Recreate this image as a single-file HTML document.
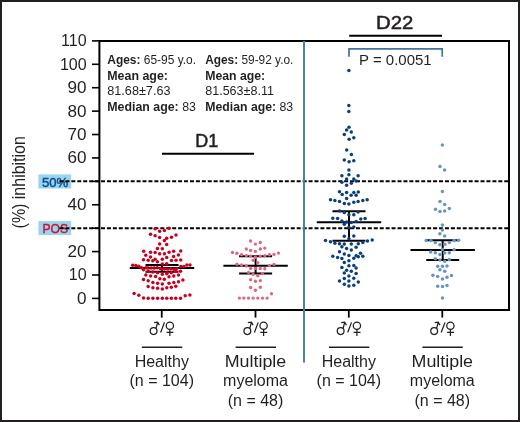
<!DOCTYPE html>
<html><head><meta charset="utf-8"><style>
html,body{margin:0;padding:0;background:#fff;}
body{width:520px;height:422px;overflow:hidden;}
svg{display:block;font-family:"Liberation Sans", sans-serif;will-change:transform;}
</style></head><body>
<svg width="520" height="422" viewBox="0 0 520 422">
<rect width="520" height="422" fill="#fff"/>
<rect x="1" y="1" width="518" height="420" fill="none" stroke="#231f20" stroke-width="2"/>
<rect x="38.4" y="174.4" width="32.8" height="14.1" fill="#99d5f2"/>
<rect x="38.4" y="221.1" width="32.8" height="14.0" fill="#99d5f2"/>
<text x="41.9" y="186.6" font-size="13" fill="#0e4c8a" stroke="#0e4c8a" stroke-width="0.45" textLength="26.4" lengthAdjust="spacingAndGlyphs">50%</text>
<text x="42.4" y="233.3" font-size="13.5" fill="#d0102a" stroke="#d0102a" stroke-width="0.45" textLength="25.6" lengthAdjust="spacingAndGlyphs">POS</text>
<line x1="59.5" y1="181.35" x2="508" y2="181.35" stroke="#000" stroke-width="2" stroke-dasharray="4 1.93"/>
<line x1="59.5" y1="228.17" x2="508" y2="228.17" stroke="#000" stroke-width="2" stroke-dasharray="4 1.93"/>
<path d="M99.4 41 H509 V310.1 H99.4 Z" fill="none" stroke="#000" stroke-width="2"/>
<line x1="92" y1="298.40" x2="99.4" y2="298.40" stroke="#000" stroke-width="1.6"/>
<text transform="translate(86.6,303.90) scale(1.07,1)" font-size="16" text-anchor="end" fill="#231f20">0</text>
<line x1="92" y1="274.99" x2="99.4" y2="274.99" stroke="#000" stroke-width="1.6"/>
<text transform="translate(86.6,280.49) scale(1.0,1)" font-size="16" text-anchor="end" fill="#231f20">10</text>
<line x1="92" y1="251.58" x2="99.4" y2="251.58" stroke="#000" stroke-width="1.6"/>
<text transform="translate(86.6,257.08) scale(1.07,1)" font-size="16" text-anchor="end" fill="#231f20">20</text>
<line x1="92" y1="228.17" x2="99.4" y2="228.17" stroke="#000" stroke-width="1.6"/>
<line x1="92" y1="204.76" x2="99.4" y2="204.76" stroke="#000" stroke-width="1.6"/>
<text transform="translate(86.6,210.26) scale(1.07,1)" font-size="16" text-anchor="end" fill="#231f20">40</text>
<line x1="92" y1="181.35" x2="99.4" y2="181.35" stroke="#000" stroke-width="1.6"/>
<line x1="92" y1="157.94" x2="99.4" y2="157.94" stroke="#000" stroke-width="1.6"/>
<text transform="translate(86.6,163.44) scale(1.07,1)" font-size="16" text-anchor="end" fill="#231f20">60</text>
<line x1="92" y1="134.53" x2="99.4" y2="134.53" stroke="#000" stroke-width="1.6"/>
<text transform="translate(86.6,140.03) scale(1.07,1)" font-size="16" text-anchor="end" fill="#231f20">70</text>
<line x1="92" y1="111.12" x2="99.4" y2="111.12" stroke="#000" stroke-width="1.6"/>
<text transform="translate(86.6,116.62) scale(1.07,1)" font-size="16" text-anchor="end" fill="#231f20">80</text>
<line x1="92" y1="87.71" x2="99.4" y2="87.71" stroke="#000" stroke-width="1.6"/>
<text transform="translate(86.6,93.21) scale(1.07,1)" font-size="16" text-anchor="end" fill="#231f20">90</text>
<line x1="92" y1="64.30" x2="99.4" y2="64.30" stroke="#000" stroke-width="1.6"/>
<text transform="translate(86.6,69.80) scale(1.0,1)" font-size="16" text-anchor="end" fill="#231f20">100</text>
<line x1="92" y1="40.89" x2="99.4" y2="40.89" stroke="#000" stroke-width="1.6"/>
<text transform="translate(86.6,46.39) scale(1.0,1)" font-size="16" text-anchor="end" fill="#231f20">110</text>
<text transform="translate(25.2,182.3) rotate(-90)" font-size="19" text-anchor="middle" textLength="92.3" lengthAdjust="spacingAndGlyphs" fill="#231f20">(%) inhibition</text>
<line x1="304" y1="41" x2="304" y2="362.6" stroke="#4f7ea8" stroke-width="2"/>
<line x1="161.75" y1="310" x2="161.75" y2="317.6" stroke="#000" stroke-width="1.8"/>
<line x1="255.5" y1="310" x2="255.5" y2="317.6" stroke="#000" stroke-width="1.8"/>
<line x1="348.8" y1="310" x2="348.8" y2="317.6" stroke="#000" stroke-width="1.8"/>
<line x1="442.3" y1="310" x2="442.3" y2="317.6" stroke="#000" stroke-width="1.8"/>
<g transform="translate(-0.15,0)" fill="none" stroke="#231f20" stroke-width="1.25"><circle cx="153.75" cy="331.1" r="3.4"/><path d="M156.2 328.3 L157.8 322.3 M154.3 322.6 L157.8 322.2 L159.5 325.1"/><path d="M164.6 322.4 L160.8 332.5"/><circle cx="170" cy="325.8" r="3.65"/><path d="M170 329.7 V335.9 M166.7 332.3 H173.6"/></g>
<g transform="translate(93.60,0)" fill="none" stroke="#231f20" stroke-width="1.25"><circle cx="153.75" cy="331.1" r="3.4"/><path d="M156.2 328.3 L157.8 322.3 M154.3 322.6 L157.8 322.2 L159.5 325.1"/><path d="M164.6 322.4 L160.8 332.5"/><circle cx="170" cy="325.8" r="3.65"/><path d="M170 329.7 V335.9 M166.7 332.3 H173.6"/></g>
<g transform="translate(186.90,0)" fill="none" stroke="#231f20" stroke-width="1.25"><circle cx="153.75" cy="331.1" r="3.4"/><path d="M156.2 328.3 L157.8 322.3 M154.3 322.6 L157.8 322.2 L159.5 325.1"/><path d="M164.6 322.4 L160.8 332.5"/><circle cx="170" cy="325.8" r="3.65"/><path d="M170 329.7 V335.9 M166.7 332.3 H173.6"/></g>
<g transform="translate(280.40,0)" fill="none" stroke="#231f20" stroke-width="1.25"><circle cx="153.75" cy="331.1" r="3.4"/><path d="M156.2 328.3 L157.8 322.3 M154.3 322.6 L157.8 322.2 L159.5 325.1"/><path d="M164.6 322.4 L160.8 332.5"/><circle cx="170" cy="325.8" r="3.65"/><path d="M170 329.7 V335.9 M166.7 332.3 H173.6"/></g>
<line x1="141.85" y1="347.3" x2="182.25" y2="347.3" stroke="#231f20" stroke-width="1.6"/>
<line x1="235.60" y1="347.3" x2="276.00" y2="347.3" stroke="#231f20" stroke-width="1.6"/>
<line x1="328.90" y1="347.3" x2="369.30" y2="347.3" stroke="#231f20" stroke-width="1.6"/>
<line x1="422.40" y1="347.3" x2="462.80" y2="347.3" stroke="#231f20" stroke-width="1.6"/>
<text x="161.75" y="367.3" font-size="16" text-anchor="middle" fill="#231f20">Healthy</text>
<text x="161.75" y="386.4" font-size="16" text-anchor="middle" fill="#231f20">(n = 104)</text>
<text x="255.50" y="367.2" font-size="16" text-anchor="middle" textLength="61.5" lengthAdjust="spacingAndGlyphs" fill="#231f20">Multiple</text>
<text x="255.50" y="386.3" font-size="16" text-anchor="middle" fill="#231f20">myeloma</text>
<text x="255.50" y="405.6" font-size="16" text-anchor="middle" fill="#231f20">(n = 48)</text>
<text x="348.80" y="367.3" font-size="16" text-anchor="middle" fill="#231f20">Healthy</text>
<text x="348.80" y="386.4" font-size="16" text-anchor="middle" fill="#231f20">(n = 104)</text>
<text x="442.30" y="367.2" font-size="16" text-anchor="middle" textLength="61.5" lengthAdjust="spacingAndGlyphs" fill="#231f20">Multiple</text>
<text x="442.30" y="386.3" font-size="16" text-anchor="middle" fill="#231f20">myeloma</text>
<text x="442.30" y="405.6" font-size="16" text-anchor="middle" fill="#231f20">(n = 48)</text>
<line x1="162" y1="153.8" x2="254.1" y2="153.8" stroke="#000" stroke-width="2"/>
<text x="195.3" y="146.8" font-size="18.5" stroke="#231f20" stroke-width="0.5" textLength="23" lengthAdjust="spacingAndGlyphs" fill="#231f20">D1</text>
<line x1="349.2" y1="35.85" x2="442" y2="35.85" stroke="#000" stroke-width="2"/>
<text x="376.0" y="28.9" font-size="18.5" stroke="#231f20" stroke-width="0.5" textLength="37.2" lengthAdjust="spacingAndGlyphs" fill="#231f20">D22</text>
<path d="M349 56.8 V48.9 H442.2 V56.7" fill="none" stroke="#41749f" stroke-width="1.7"/>
<text x="359" y="65" font-size="15" fill="#231f20">P = 0.0051</text>
<text x="107.3" y="64.2" font-size="12.4" lengthAdjust="spacingAndGlyphs" textLength="88.8" fill="#231f20"><tspan font-weight="bold">Ages:</tspan> 65-95 y.o.</text><text x="107.3" y="80" font-size="12.4" lengthAdjust="spacingAndGlyphs" textLength="60.6" fill="#231f20" font-weight="bold">Mean age:</text><text x="107.3" y="95" font-size="12.4" lengthAdjust="spacingAndGlyphs" textLength="63.2" fill="#231f20">81.68±7.63</text><text x="107.3" y="110.6" font-size="12.4" lengthAdjust="spacingAndGlyphs" textLength="88.6" fill="#231f20"><tspan font-weight="bold">Median age:</tspan> 83</text>
<text x="205.2" y="64.2" font-size="12.4" lengthAdjust="spacingAndGlyphs" textLength="88.2" fill="#231f20"><tspan font-weight="bold">Ages:</tspan> 59-92 y.o.</text><text x="205.2" y="80" font-size="12.4" lengthAdjust="spacingAndGlyphs" textLength="60.0" fill="#231f20" font-weight="bold">Mean age:</text><text x="205.2" y="95" font-size="12.4" lengthAdjust="spacingAndGlyphs" textLength="68.8" fill="#231f20">81.563±8.11</text><text x="205.2" y="110.6" font-size="12.4" lengthAdjust="spacingAndGlyphs" textLength="88.0" fill="#231f20"><tspan font-weight="bold">Median age:</tspan> 83</text>
<g stroke="#000" stroke-width="2" fill="none"><line x1="129.80" y1="268.1" x2="194.20" y2="268.1"/><line x1="145.50" y1="265.0" x2="178.50" y2="265.0"/><line x1="145.50" y1="271.7" x2="178.50" y2="271.7"/><line x1="162.0" y1="265.0" x2="162.0" y2="271.7"/></g>
<g stroke="#000" stroke-width="2" fill="none"><line x1="223.40" y1="265.7" x2="287.80" y2="265.7"/><line x1="239.10" y1="256.3" x2="272.10" y2="256.3"/><line x1="239.10" y1="273.6" x2="272.10" y2="273.6"/><line x1="255.6" y1="256.3" x2="255.6" y2="273.6"/></g>
<g stroke="#000" stroke-width="2" fill="none"><line x1="316.80" y1="222.2" x2="381.20" y2="222.2"/><line x1="332.50" y1="211.2" x2="365.50" y2="211.2"/><line x1="332.50" y1="240.8" x2="365.50" y2="240.8"/><line x1="349.0" y1="211.2" x2="349.0" y2="240.8"/></g>
<g stroke="#000" stroke-width="2" fill="none"><line x1="410.50" y1="250.0" x2="474.90" y2="250.0"/><line x1="426.20" y1="240.3" x2="459.20" y2="240.3"/><line x1="426.20" y1="259.9" x2="459.20" y2="259.9"/><line x1="442.7" y1="240.3" x2="442.7" y2="259.9"/></g>
<g fill="#c8001e"><circle cx="155.1" cy="228.8" r="1.75"/><circle cx="169.1" cy="228.2" r="1.75"/><circle cx="159.6" cy="231.2" r="1.75"/><circle cx="164.4" cy="230.6" r="1.75"/><circle cx="150.5" cy="234.3" r="1.75"/><circle cx="155.1" cy="235.8" r="1.75"/><circle cx="176.0" cy="234.9" r="1.75"/><circle cx="159.6" cy="237.5" r="1.75"/><circle cx="166.7" cy="238.3" r="1.75"/><circle cx="171.5" cy="237.2" r="1.75"/><circle cx="164.4" cy="240.4" r="1.75"/><circle cx="159.6" cy="243.9" r="1.75"/><circle cx="166.7" cy="244.4" r="1.75"/><circle cx="157.4" cy="248.4" r="1.75"/><circle cx="162.3" cy="248.8" r="1.75"/><circle cx="143.7" cy="251.2" r="1.75"/><circle cx="150.5" cy="252.3" r="1.75"/><circle cx="155.1" cy="252.5" r="1.75"/><circle cx="159.6" cy="253.8" r="1.75"/><circle cx="164.4" cy="253.8" r="1.75"/><circle cx="169.1" cy="252.3" r="1.75"/><circle cx="173.6" cy="251.2" r="1.75"/><circle cx="180.7" cy="250.9" r="1.75"/><circle cx="145.8" cy="255.3" r="1.75"/><circle cx="178.4" cy="255.0" r="1.75"/><circle cx="150.5" cy="257.1" r="1.75"/><circle cx="166.7" cy="257.4" r="1.75"/><circle cx="173.6" cy="256.4" r="1.75"/><circle cx="143.5" cy="259.8" r="1.75"/><circle cx="148.2" cy="260.3" r="1.75"/><circle cx="152.8" cy="260.8" r="1.75"/><circle cx="155.1" cy="259.2" r="1.75"/><circle cx="157.4" cy="261.7" r="1.75"/><circle cx="162.3" cy="259.2" r="1.75"/><circle cx="171.5" cy="260.6" r="1.75"/><circle cx="176.0" cy="260.3" r="1.75"/><circle cx="180.7" cy="260.0" r="1.75"/><circle cx="162.3" cy="264.0" r="1.75"/><circle cx="166.7" cy="263.8" r="1.75"/><circle cx="132.7" cy="265.2" r="1.75"/><circle cx="135.8" cy="265.4" r="1.75"/><circle cx="138.8" cy="266.3" r="1.75"/><circle cx="141.5" cy="267.7" r="1.75"/><circle cx="143.5" cy="269.8" r="1.75"/><circle cx="146.2" cy="267.7" r="1.75"/><circle cx="148.1" cy="268.1" r="1.75"/><circle cx="151.2" cy="268.1" r="1.75"/><circle cx="154.2" cy="268.1" r="1.75"/><circle cx="157.3" cy="267.7" r="1.75"/><circle cx="160.4" cy="268.5" r="1.75"/><circle cx="162.0" cy="269.2" r="1.75"/><circle cx="164.6" cy="268.8" r="1.75"/><circle cx="167.7" cy="268.9" r="1.75"/><circle cx="170.8" cy="268.8" r="1.75"/><circle cx="173.8" cy="269.2" r="1.75"/><circle cx="176.5" cy="268.5" r="1.75"/><circle cx="180.8" cy="266.5" r="1.75"/><circle cx="183.8" cy="266.5" r="1.75"/><circle cx="186.9" cy="265.0" r="1.75"/><circle cx="190.0" cy="265.0" r="1.75"/><circle cx="148.2" cy="271.3" r="1.75"/><circle cx="152.9" cy="272.0" r="1.75"/><circle cx="157.6" cy="272.7" r="1.75"/><circle cx="167.0" cy="272.7" r="1.75"/><circle cx="171.3" cy="272.7" r="1.75"/><circle cx="175.8" cy="271.3" r="1.75"/><circle cx="180.5" cy="271.3" r="1.75"/><circle cx="145.8" cy="275.1" r="1.75"/><circle cx="150.6" cy="276.1" r="1.75"/><circle cx="155.6" cy="276.5" r="1.75"/><circle cx="162.3" cy="274.3" r="1.75"/><circle cx="166.8" cy="273.8" r="1.75"/><circle cx="169.0" cy="276.7" r="1.75"/><circle cx="173.8" cy="276.1" r="1.75"/><circle cx="178.5" cy="275.1" r="1.75"/><circle cx="143.5" cy="279.4" r="1.75"/><circle cx="148.2" cy="280.8" r="1.75"/><circle cx="159.9" cy="278.7" r="1.75"/><circle cx="164.3" cy="279.2" r="1.75"/><circle cx="152.9" cy="282.4" r="1.75"/><circle cx="157.6" cy="283.2" r="1.75"/><circle cx="162.3" cy="284.1" r="1.75"/><circle cx="169.0" cy="283.2" r="1.75"/><circle cx="173.8" cy="282.4" r="1.75"/><circle cx="178.5" cy="281.8" r="1.75"/><circle cx="182.9" cy="280.1" r="1.75"/><circle cx="148.2" cy="286.4" r="1.75"/><circle cx="152.9" cy="287.8" r="1.75"/><circle cx="157.6" cy="288.2" r="1.75"/><circle cx="162.3" cy="289.1" r="1.75"/><circle cx="166.8" cy="287.8" r="1.75"/><circle cx="171.3" cy="287.2" r="1.75"/><circle cx="175.8" cy="286.2" r="1.75"/><circle cx="134.1" cy="293.6" r="1.75"/><circle cx="138.8" cy="295.3" r="1.75"/><circle cx="143.5" cy="298.0" r="1.75"/><circle cx="148.2" cy="298.3" r="1.75"/><circle cx="152.9" cy="298.3" r="1.75"/><circle cx="157.6" cy="298.3" r="1.75"/><circle cx="162.3" cy="298.3" r="1.75"/><circle cx="166.8" cy="298.3" r="1.75"/><circle cx="171.3" cy="298.3" r="1.75"/><circle cx="175.8" cy="298.3" r="1.75"/><circle cx="180.5" cy="298.3" r="1.75"/><circle cx="185.2" cy="295.8" r="1.75"/><circle cx="189.9" cy="294.9" r="1.75"/></g>
<g fill="#db6782"><circle cx="250.6" cy="241.0" r="1.68"/><circle cx="255.4" cy="244.1" r="1.68"/><circle cx="260.3" cy="242.5" r="1.68"/><circle cx="246.3" cy="249.0" r="1.68"/><circle cx="250.6" cy="250.4" r="1.68"/><circle cx="255.4" cy="251.4" r="1.68"/><circle cx="260.3" cy="249.0" r="1.68"/><circle cx="264.8" cy="248.1" r="1.68"/><circle cx="232.5" cy="252.5" r="1.68"/><circle cx="236.9" cy="253.3" r="1.68"/><circle cx="241.5" cy="254.8" r="1.68"/><circle cx="246.3" cy="255.6" r="1.68"/><circle cx="250.6" cy="256.1" r="1.68"/><circle cx="255.4" cy="257.3" r="1.68"/><circle cx="260.3" cy="256.1" r="1.68"/><circle cx="264.8" cy="255.6" r="1.68"/><circle cx="269.4" cy="254.8" r="1.68"/><circle cx="274.0" cy="254.4" r="1.68"/><circle cx="278.5" cy="253.1" r="1.68"/><circle cx="253.1" cy="260.3" r="1.68"/><circle cx="257.8" cy="262.8" r="1.68"/><circle cx="236.9" cy="264.2" r="1.68"/><circle cx="241.5" cy="265.0" r="1.68"/><circle cx="246.3" cy="266.0" r="1.68"/><circle cx="269.4" cy="265.6" r="1.68"/><circle cx="274.0" cy="264.4" r="1.68"/><circle cx="250.6" cy="268.5" r="1.68"/><circle cx="255.4" cy="268.5" r="1.68"/><circle cx="260.3" cy="268.5" r="1.68"/><circle cx="264.8" cy="268.7" r="1.68"/><circle cx="248.5" cy="272.4" r="1.68"/><circle cx="253.1" cy="274.2" r="1.68"/><circle cx="257.8" cy="275.8" r="1.68"/><circle cx="262.5" cy="273.6" r="1.68"/><circle cx="250.6" cy="279.7" r="1.68"/><circle cx="255.4" cy="281.2" r="1.68"/><circle cx="260.3" cy="280.6" r="1.68"/><circle cx="250.6" cy="287.5" r="1.68"/><circle cx="255.4" cy="290.2" r="1.68"/><circle cx="260.3" cy="287.3" r="1.68"/><circle cx="271.5" cy="293.8" r="1.68"/><circle cx="239.4" cy="298.1" r="1.68"/><circle cx="243.8" cy="298.1" r="1.68"/><circle cx="248.5" cy="298.1" r="1.68"/><circle cx="253.1" cy="298.1" r="1.68"/><circle cx="257.8" cy="298.1" r="1.68"/><circle cx="262.5" cy="298.1" r="1.68"/><circle cx="267.1" cy="298.1" r="1.68"/></g>
<g fill="#0a3f7f"><circle cx="348.9" cy="70.4" r="1.75"/><circle cx="348.8" cy="105.4" r="1.75"/><circle cx="348.8" cy="111.6" r="1.75"/><circle cx="349.0" cy="127.2" r="1.75"/><circle cx="346.6" cy="130.1" r="1.75"/><circle cx="351.3" cy="132.0" r="1.75"/><circle cx="344.3" cy="134.5" r="1.75"/><circle cx="349.1" cy="139.3" r="1.75"/><circle cx="353.8" cy="137.8" r="1.75"/><circle cx="346.7" cy="150.0" r="1.75"/><circle cx="351.4" cy="154.4" r="1.75"/><circle cx="344.3" cy="160.1" r="1.75"/><circle cx="349.1" cy="161.7" r="1.75"/><circle cx="353.8" cy="160.7" r="1.75"/><circle cx="348.9" cy="170.0" r="1.75"/><circle cx="341.9" cy="175.8" r="1.75"/><circle cx="348.9" cy="174.7" r="1.75"/><circle cx="358.1" cy="175.8" r="1.75"/><circle cx="346.6" cy="179.1" r="1.75"/><circle cx="353.8" cy="179.1" r="1.75"/><circle cx="356.1" cy="180.9" r="1.75"/><circle cx="341.9" cy="182.2" r="1.75"/><circle cx="351.3" cy="183.2" r="1.75"/><circle cx="346.6" cy="185.2" r="1.75"/><circle cx="339.5" cy="191.7" r="1.75"/><circle cx="346.6" cy="192.6" r="1.75"/><circle cx="353.8" cy="192.6" r="1.75"/><circle cx="358.3" cy="191.9" r="1.75"/><circle cx="342.2" cy="194.6" r="1.75"/><circle cx="351.1" cy="195.3" r="1.75"/><circle cx="356.1" cy="195.3" r="1.75"/><circle cx="346.6" cy="198.5" r="1.75"/><circle cx="330.5" cy="199.7" r="1.75"/><circle cx="334.9" cy="200.4" r="1.75"/><circle cx="339.5" cy="201.5" r="1.75"/><circle cx="344.3" cy="203.6" r="1.75"/><circle cx="348.9" cy="204.1" r="1.75"/><circle cx="353.8" cy="202.2" r="1.75"/><circle cx="358.1" cy="201.4" r="1.75"/><circle cx="362.8" cy="200.4" r="1.75"/><circle cx="367.2" cy="199.7" r="1.75"/><circle cx="339.5" cy="211.1" r="1.75"/><circle cx="344.3" cy="212.5" r="1.75"/><circle cx="358.1" cy="212.1" r="1.75"/><circle cx="348.9" cy="214.8" r="1.75"/><circle cx="353.8" cy="214.8" r="1.75"/><circle cx="332.8" cy="218.2" r="1.75"/><circle cx="337.6" cy="218.6" r="1.75"/><circle cx="360.8" cy="218.9" r="1.75"/><circle cx="365.1" cy="218.6" r="1.75"/><circle cx="341.9" cy="220.9" r="1.75"/><circle cx="346.6" cy="222.0" r="1.75"/><circle cx="351.3" cy="222.5" r="1.75"/><circle cx="356.1" cy="221.6" r="1.75"/><circle cx="344.3" cy="224.2" r="1.75"/><circle cx="348.9" cy="227.3" r="1.75"/><circle cx="353.8" cy="226.9" r="1.75"/><circle cx="344.3" cy="236.2" r="1.75"/><circle cx="353.8" cy="236.1" r="1.75"/><circle cx="348.9" cy="238.7" r="1.75"/><circle cx="325.5" cy="240.5" r="1.75"/><circle cx="330.5" cy="241.8" r="1.75"/><circle cx="367.5" cy="241.0" r="1.75"/><circle cx="372.2" cy="240.1" r="1.75"/><circle cx="334.9" cy="243.2" r="1.75"/><circle cx="339.5" cy="243.7" r="1.75"/><circle cx="344.3" cy="244.1" r="1.75"/><circle cx="351.3" cy="244.1" r="1.75"/><circle cx="358.3" cy="243.7" r="1.75"/><circle cx="362.8" cy="242.4" r="1.75"/><circle cx="341.9" cy="246.8" r="1.75"/><circle cx="356.1" cy="247.2" r="1.75"/><circle cx="346.6" cy="248.6" r="1.75"/><circle cx="351.3" cy="249.9" r="1.75"/><circle cx="339.5" cy="251.8" r="1.75"/><circle cx="344.3" cy="254.0" r="1.75"/><circle cx="348.9" cy="255.6" r="1.75"/><circle cx="360.5" cy="253.2" r="1.75"/><circle cx="332.8" cy="256.2" r="1.75"/><circle cx="337.6" cy="257.6" r="1.75"/><circle cx="341.9" cy="258.5" r="1.75"/><circle cx="356.1" cy="255.8" r="1.75"/><circle cx="358.3" cy="256.7" r="1.75"/><circle cx="362.8" cy="256.2" r="1.75"/><circle cx="353.8" cy="258.3" r="1.75"/><circle cx="344.3" cy="262.5" r="1.75"/><circle cx="348.9" cy="260.7" r="1.75"/><circle cx="348.9" cy="265.8" r="1.75"/><circle cx="353.8" cy="265.5" r="1.75"/><circle cx="341.9" cy="267.6" r="1.75"/><circle cx="356.1" cy="268.1" r="1.75"/><circle cx="346.6" cy="270.3" r="1.75"/><circle cx="351.3" cy="271.2" r="1.75"/><circle cx="344.3" cy="273.0" r="1.75"/><circle cx="356.1" cy="273.4" r="1.75"/><circle cx="348.9" cy="276.1" r="1.75"/><circle cx="344.3" cy="278.4" r="1.75"/><circle cx="353.8" cy="278.2" r="1.75"/><circle cx="339.5" cy="281.1" r="1.75"/><circle cx="348.9" cy="281.1" r="1.75"/><circle cx="358.3" cy="281.9" r="1.75"/><circle cx="344.3" cy="284.2" r="1.75"/><circle cx="348.9" cy="286.0" r="1.75"/><circle cx="353.8" cy="285.2" r="1.75"/></g>
<g fill="#6894c0"><circle cx="442.4" cy="145.0" r="1.75"/><circle cx="440.0" cy="166.6" r="1.75"/><circle cx="444.6" cy="170.1" r="1.75"/><circle cx="442.4" cy="191.6" r="1.75"/><circle cx="440.0" cy="201.5" r="1.75"/><circle cx="444.7" cy="204.6" r="1.75"/><circle cx="435.5" cy="209.3" r="1.75"/><circle cx="440.0" cy="211.5" r="1.75"/><circle cx="444.7" cy="210.9" r="1.75"/><circle cx="449.3" cy="208.5" r="1.75"/><circle cx="442.4" cy="224.9" r="1.75"/><circle cx="442.4" cy="230.1" r="1.75"/><circle cx="439.9" cy="233.8" r="1.75"/><circle cx="444.7" cy="236.0" r="1.75"/><circle cx="426.2" cy="240.4" r="1.75"/><circle cx="431.0" cy="240.5" r="1.75"/><circle cx="454.1" cy="240.5" r="1.75"/><circle cx="458.6" cy="240.2" r="1.75"/><circle cx="435.3" cy="242.4" r="1.75"/><circle cx="449.3" cy="242.4" r="1.75"/><circle cx="439.9" cy="244.7" r="1.75"/><circle cx="444.9" cy="244.3" r="1.75"/><circle cx="442.5" cy="249.5" r="1.75"/><circle cx="454.1" cy="249.8" r="1.75"/><circle cx="430.7" cy="252.0" r="1.75"/><circle cx="435.3" cy="252.7" r="1.75"/><circle cx="444.7" cy="253.0" r="1.75"/><circle cx="449.3" cy="252.7" r="1.75"/><circle cx="439.9" cy="254.6" r="1.75"/><circle cx="435.3" cy="258.7" r="1.75"/><circle cx="439.9" cy="260.1" r="1.75"/><circle cx="444.7" cy="261.3" r="1.75"/><circle cx="449.3" cy="259.4" r="1.75"/><circle cx="437.7" cy="266.2" r="1.75"/><circle cx="442.5" cy="266.2" r="1.75"/><circle cx="447.0" cy="266.0" r="1.75"/><circle cx="439.9" cy="269.7" r="1.75"/><circle cx="444.7" cy="271.2" r="1.75"/><circle cx="432.9" cy="275.3" r="1.75"/><circle cx="437.7" cy="276.4" r="1.75"/><circle cx="442.5" cy="279.1" r="1.75"/><circle cx="447.0" cy="277.2" r="1.75"/><circle cx="451.5" cy="275.5" r="1.75"/><circle cx="437.7" cy="286.2" r="1.75"/><circle cx="442.5" cy="286.5" r="1.75"/><circle cx="447.0" cy="285.6" r="1.75"/><circle cx="442.5" cy="298.1" r="1.75"/></g>
</svg>
</body></html>
